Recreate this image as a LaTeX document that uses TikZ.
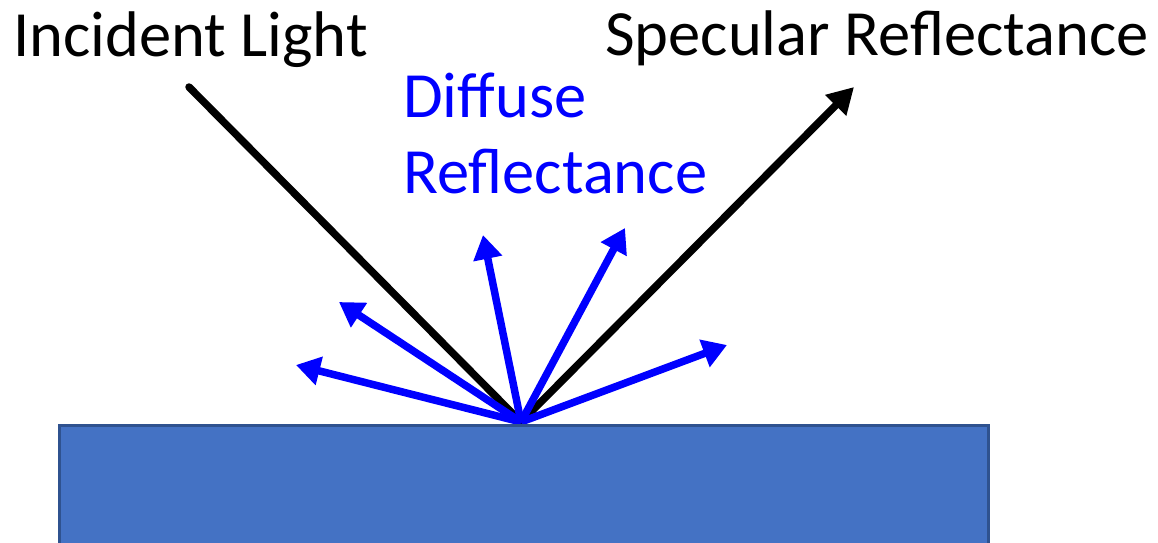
\documentclass[tikz,border=0pt]{standalone}
\usepackage{fontspec}
\setmainfont{Carlito}
\usetikzlibrary{arrows.meta}
\definecolor{slab}{HTML}{4472C4}
\definecolor{slabedge}{HTML}{2F528F}
\definecolor{diffblue}{RGB}{0,0,255}
\tikzset{
  ray/.style={line width=7.5pt, black},
  specray/.style={line width=7.5pt, black, -{Triangle[length=26pt,width=28pt]}},
  diffray/.style={line width=7.5pt, diffblue, -{Triangle[length=24pt,width=28pt]}},
  lbl/.style={anchor=base west, inner sep=0pt, font=\fontsize{64.5}{77}\selectfont},
}
\begin{document}
\begin{tikzpicture}[x=1pt,y=-1pt]
\useasboundingbox (0,0) rectangle (1158,542);
% coordinates
\coordinate (o) at (521,422);
\coordinate (inc) at (189,87);
\coordinate (spec) at (854,87);
\coordinate (d1) at (296,365);
\coordinate (d2) at (339,302);
\coordinate (d3) at (483,235);
\coordinate (d4) at (625,228);
\coordinate (d5) at (727,345);
% labels
\node[lbl] (incl) at (13,56) {Incident Light};
\node[lbl] (specl) at (605,55) {Specular Reflectance};
\node[lbl, text=diffblue] (diffl1) at (403,117) {Diffuse};
\node[lbl, text=diffblue] (diffl2) at (403,193) {Reflectance};
% black rays
\draw[ray, line cap=round] (inc) -- (o);
\draw[specray] (o) -- (spec);
% blue rays
\foreach \t in {d1,d2,d3,d4,d5}
  \draw[diffray] (o) -- (\t);
% slab
\node[draw=slabedge, fill=slab, line width=3pt, minimum width=929pt, minimum height=120pt, inner sep=0pt, anchor=north west] (slab) at (57.5,424) {};
\end{tikzpicture}
\end{document}
